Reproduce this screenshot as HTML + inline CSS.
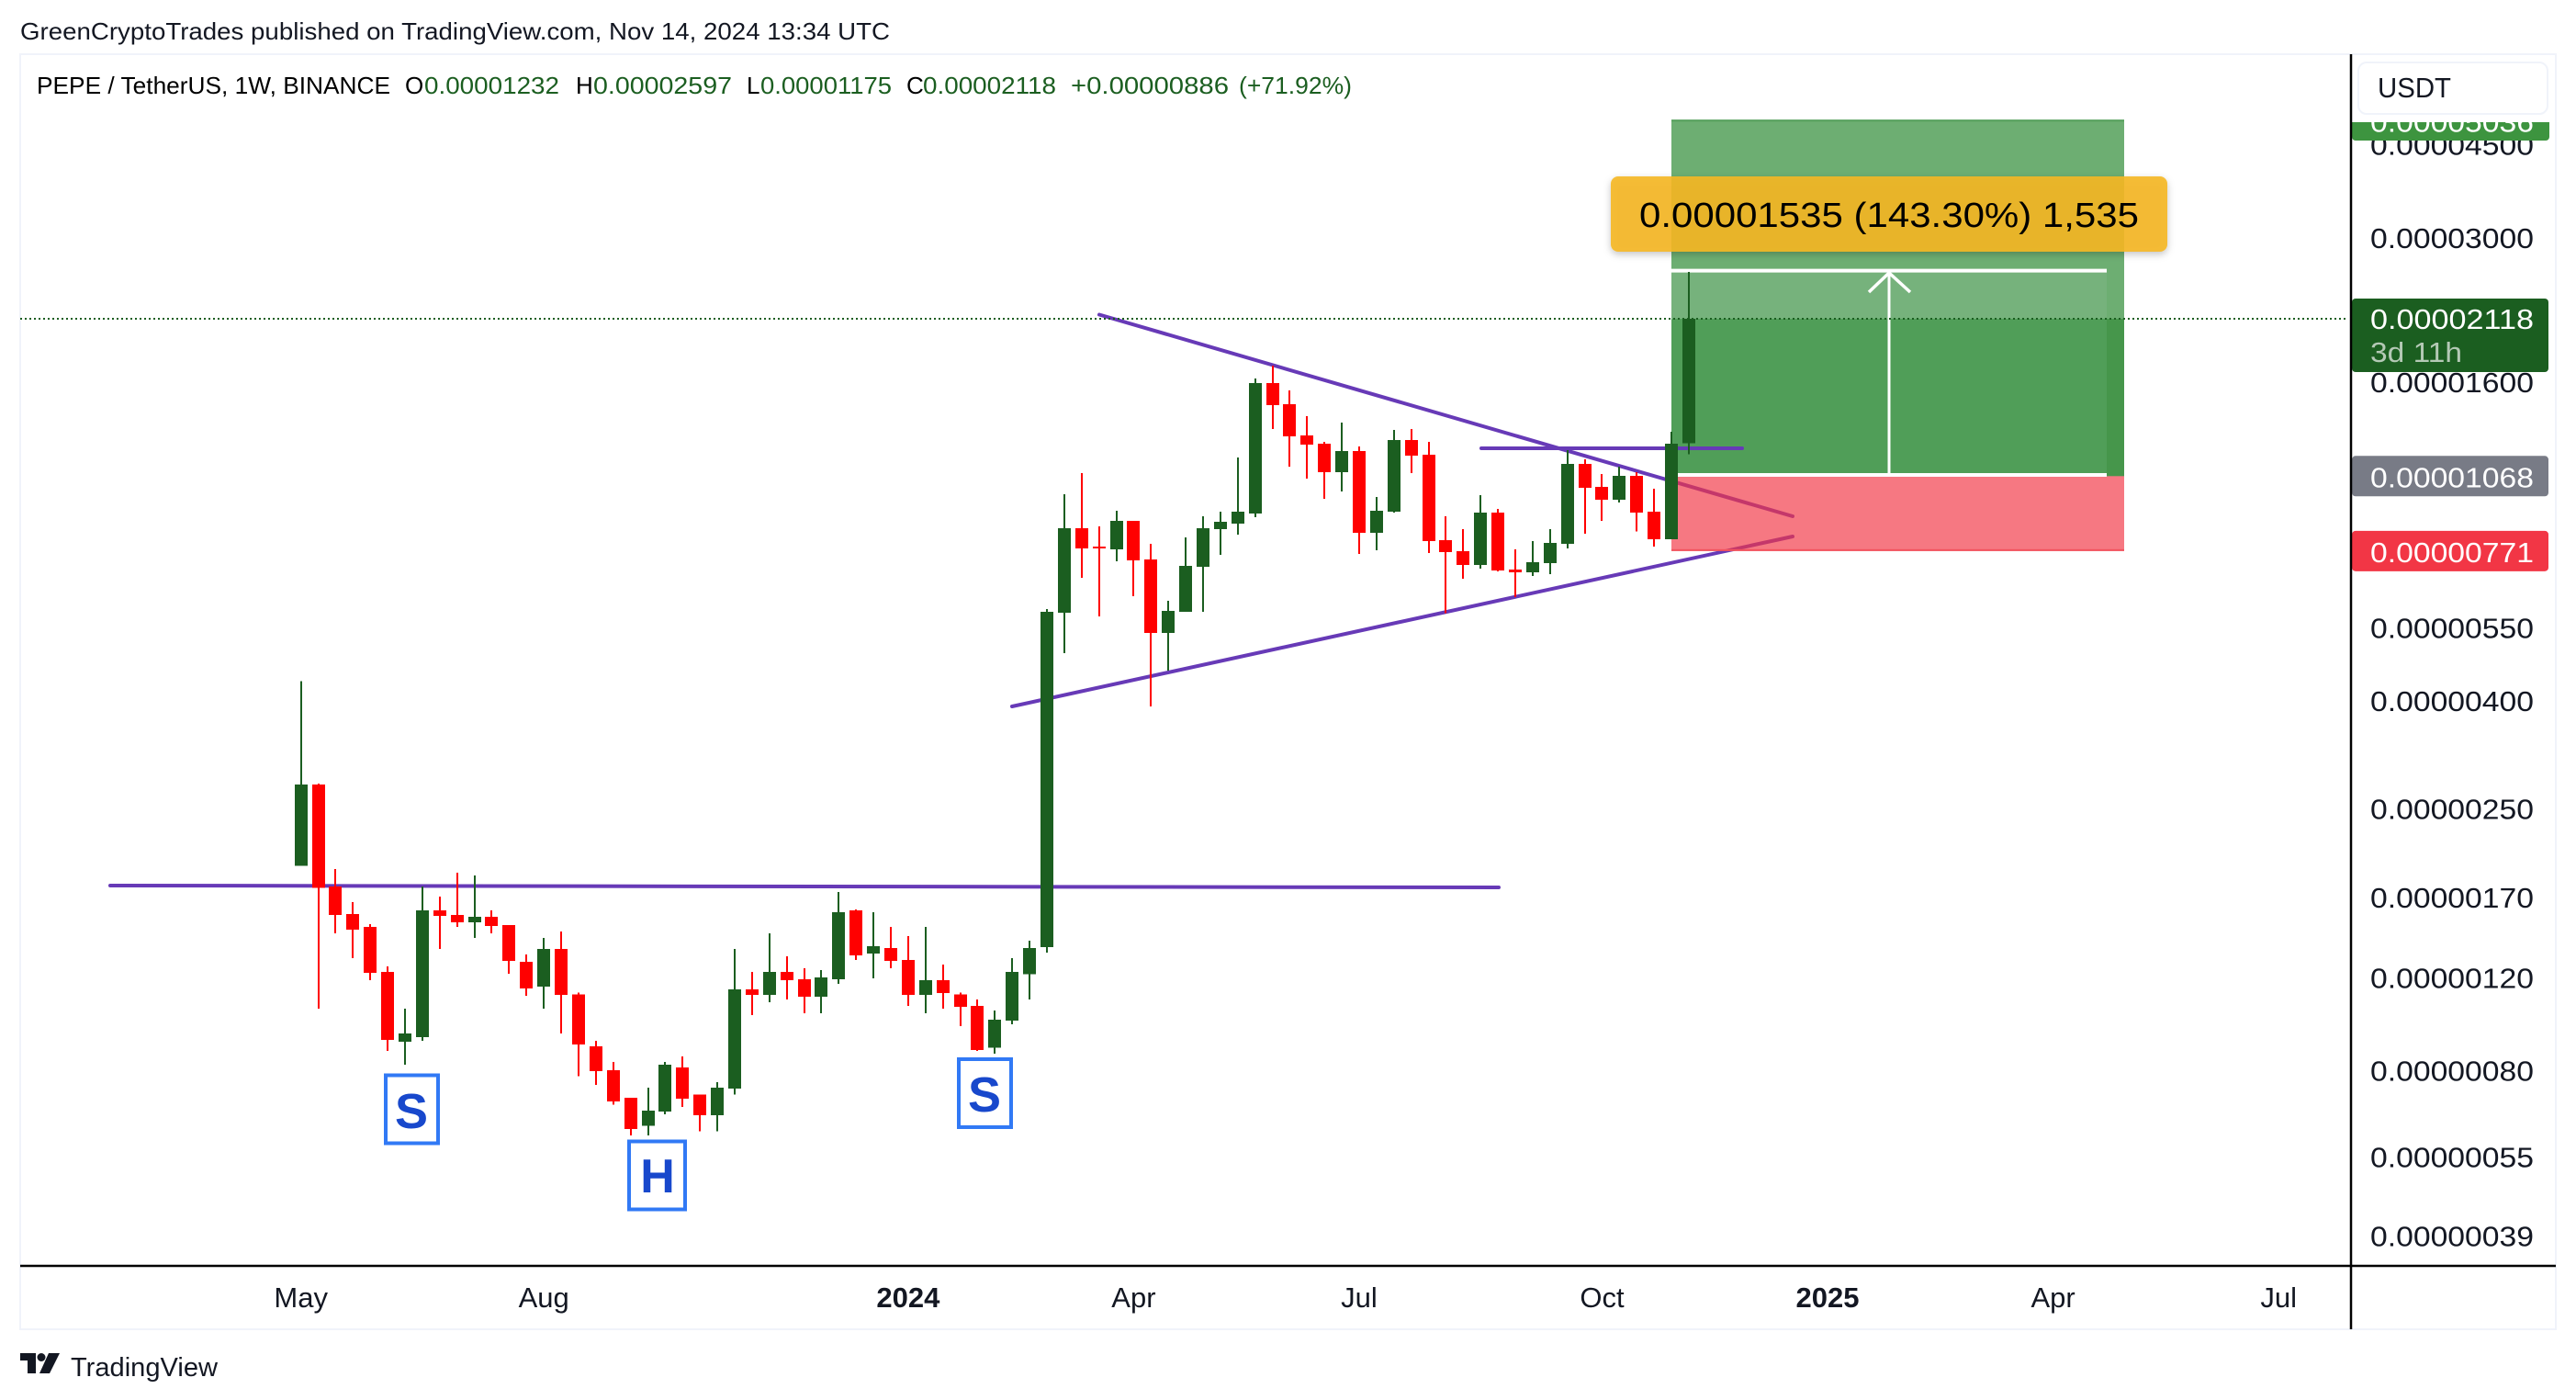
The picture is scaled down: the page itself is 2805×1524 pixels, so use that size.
<!DOCTYPE html>
<html lang="en">
<head>
<meta charset="utf-8">
<title>PEPE / TetherUS weekly chart</title>
<style>
html,body{margin:0;padding:0;background:#fff;width:2805px;height:1524px;overflow:hidden}
svg{display:block;font-family:"Liberation Sans",Arial,sans-serif}
</style>
</head>
<body>
<svg id="chart" xmlns="http://www.w3.org/2000/svg" width="2805" height="1524" viewBox="0 0 2805 1524">
  <defs>
    <clipPath id="target-clip"><rect x="2560" y="133" width="220" height="21"/></clipPath>
    <filter id="badge-shadow" x="-5%" y="-20%" width="110%" height="150%">
      <feDropShadow dx="0" dy="3" stdDeviation="4" flood-color="#000" flood-opacity="0.25"/>
    </filter>
  </defs>

  <text x="22" y="43" font-size="26" fill="#131722" textLength="947" lengthAdjust="spacingAndGlyphs">GreenCryptoTrades published on TradingView.com, Nov 14, 2024 13:34 UTC</text>

  <rect x="22" y="59" width="2761" height="1388" fill="#fff" stroke="#f0f3fa" stroke-width="2"/>

  <g font-size="26">
    <text x="40" y="102" fill="#000" textLength="385" lengthAdjust="spacingAndGlyphs">PEPE / TetherUS, 1W, BINANCE</text>
    <text x="441" y="102" fill="#000">O</text>
    <text x="462" y="102" fill="#1b5e20" textLength="147" lengthAdjust="spacingAndGlyphs">0.00001232</text>
    <text x="627" y="102" fill="#000">H</text>
    <text x="646" y="102" fill="#1b5e20" textLength="151" lengthAdjust="spacingAndGlyphs">0.00002597</text>
    <text x="813" y="102" fill="#000">L</text>
    <text x="828" y="102" fill="#1b5e20" textLength="143" lengthAdjust="spacingAndGlyphs">0.00001175</text>
    <text x="987" y="102" fill="#000">C</text>
    <text x="1005" y="102" fill="#1b5e20" textLength="145" lengthAdjust="spacingAndGlyphs">0.00002118</text>
    <text x="1166" y="102" fill="#1b5e20" textLength="172" lengthAdjust="spacingAndGlyphs">+0.00000886</text>
    <text x="1349" y="102" fill="#1b5e20" textLength="123" lengthAdjust="spacingAndGlyphs">(+71.92%)</text>
  </g>

  <g stroke="#673ab7" stroke-width="4" stroke-linecap="round" fill="none">
    <line x1="120" y1="964" x2="1632" y2="966"/>
    <line x1="1197" y1="342.5" x2="1952" y2="562"/>
    <line x1="1102" y1="769" x2="1952" y2="584"/>
  </g>

  <g id="position-tool"></g>

  <line x1="1613" y1="488" x2="1897" y2="488" stroke="#673ab7" stroke-width="4" stroke-linecap="round"/>

  <g fill="none" stroke="#fff">
    <line x1="1820" y1="294.6" x2="2294" y2="294.6" stroke-width="4"/>
    <line x1="1820" y1="517" x2="2294" y2="517" stroke-width="4"/>
    <line x1="2057" y1="296" x2="2057" y2="517" stroke-width="3"/>
    <path d="M2035 318 L2057 297 L2080 318" stroke-width="3.5"/>
  </g>

  <line id="price-line" x1="22" x2="2557" stroke="#1b5e20" stroke-width="2" stroke-dasharray="2 3"/>

  <g id="candles" shape-rendering="crispEdges"></g>

  <g>
    <rect x="1754" y="192" width="606" height="82" rx="8" fill="rgba(245,183,38,0.9)" filter="url(#badge-shadow)"/>
    <text x="1785" y="247" font-size="38" fill="#000" textLength="544" lengthAdjust="spacingAndGlyphs">0.00001535 (143.30%) 1,535</text>
  </g>

  <g>
    <rect x="420" y="1170.5" width="57" height="74" fill="#fff" stroke="#3179f5" stroke-width="4"/>
    <text x="448" y="1228" font-size="54" font-weight="700" fill="#1848cc" text-anchor="middle">S</text>
  </g>
  <g>
    <rect x="685" y="1242.5" width="61" height="74" fill="#fff" stroke="#3179f5" stroke-width="4"/>
    <text x="716" y="1298" font-size="52" font-weight="700" fill="#1848cc" text-anchor="middle">H</text>
  </g>
  <g>
    <rect x="1044" y="1153" width="57" height="74" fill="#fff" stroke="#3179f5" stroke-width="4"/>
    <text x="1072" y="1210" font-size="54" font-weight="700" fill="#1848cc" text-anchor="middle">S</text>
  </g>

  <rect x="2561" y="60" width="221" height="1317" fill="#fff"/>
  <g id="price-axis"></g>
  <g id="price-tags"></g>

  <g>
    <rect x="2568" y="68" width="206" height="56" rx="9" fill="#fff" stroke="#f0f3fa" stroke-width="2"/>
    <text x="2589" y="106" font-size="31" fill="#131722" textLength="80" lengthAdjust="spacingAndGlyphs">USDT</text>
  </g>

  <line x1="2560" y1="59" x2="2560" y2="1447" stroke="#000" stroke-width="2.5"/>
  <line x1="22" y1="1378" x2="2783" y2="1378" stroke="#000" stroke-width="2.5"/>
  <g id="time-axis"></g>

  <g fill="#131722">
    <path d="M22 1473 H39 V1495 H30 V1481 H22 Z"/>
    <circle cx="45" cy="1477.5" r="4.5"/>
    <path d="M53 1473 H65 L54 1495 H43 Z"/>
  </g>
  <text x="77" y="1498" font-size="29" fill="#131722" textLength="160" lengthAdjust="spacingAndGlyphs">TradingView</text>
</svg>

<script>
// Prices are expressed in units of 0.00000001 USDT.
const priceUnit = 1e-8;
const opens = [196,279.2,179.1,158.9,150.3,123.6,91.1,93,161.5,158.3,153.3,157,151.5,129.1,115.8,136.6,112.1,89.3,80.5,71.4,63.3,67.3,81.5,72.5,66.2,74.3,114.4,111.8,123.6,119.6,111,119.6,161.5,133.8,137.1,130.1,111.8,119.1,112.1,106.5,88.9,99.9,122.2,137.6,589.5,851.6,786,776.7,879.2,743.3,540,592,719.7,848.2,868.7,907.8,1601,1460,1275,1229,1086,1191,834.6,915,1250,1172,808,770.5,725.7,911,711.4,702.9,731.5,795.5,1126,1019,964,1069,915,812,1232];
const highs = [438,280.3,193.3,167.4,152.1,126.6,105.2,179.1,171.5,190.2,187.9,161.5,151.5,133.3,143.3,147.2,113,91.5,83.5,71.4,74.6,83.5,85.5,72.5,76.4,136.6,123.6,146.1,132.2,125.6,124.6,174.9,162.1,160.2,150.3,144.5,150.3,127.6,113,109.5,104.4,131.2,141.6,599,987,1082,858.3,918.7,879.2,795.5,620.9,818,896.9,915,1158,1634,1728,1551,1386,1240,1348,1215,975.4,1306,1311,1240,897,848,983,926,776.7,805,848,1195,1149,1078,1113,1086,1011,1295,2597];
const lows = [196,105.2,146.1,131.2,119.2,87.6,82.5,91.5,136.6,150.3,143.3,146.1,122.6,111.3,105.2,94.5,78.5,75.5,69.4,60.7,60.7,66.5,68.6,61.7,61.7,72.5,102.3,108.2,109.5,103.2,103.2,117.3,130.1,120.1,125.6,106.5,103.2,105.2,97.6,87.6,86.5,98.4,109.5,134.3,494.5,686.3,580.2,737.4,633.5,392,458.2,592,592,758.3,828,893.4,1311,1113,1057,967.7,999,761,773.6,911,1082,764,588,683.5,714,706,631,691.7,697.3,779.8,831,879,952,840,786,812,1175];
const closes = [279,178,158.3,148.5,123.1,91.9,94.5,161.5,157.7,153.3,157,150.9,129.6,114.9,136.6,111.8,90,80.2,70.3,62.4,67.5,82.5,71.1,66.2,74.6,114.4,111.8,123.6,119.1,111,120.5,160.2,132.7,138.2,129.6,111.8,119.1,112.6,106.1,87.9,100.3,123.6,137.1,592,851.6,779.8,779.8,879.2,740.4,540,594.3,722.6,851.6,875.6,915,1601,1454,1270,1225,1086,1191,835,918.7,1250,1167,805,767,725.7,911,709,702.9,734.4,798.7,1126,1015,964,1069,911,812,1230,2118];

const priceTicks = [4500,3000,1600,550,400,250,170,120,80,55,39];
const timeLabels = ["May","Aug","2024","Apr","Jul","Oct","2025","Apr","Jul"];
const timeLabelBars = [0,14,35,48,61,75,88,101,114];

const lastPrice = 2118;
const targetPrice = 5036;
const entryPrice = 1068;
const stopPrice = 771;

const SVG_NS = "http://www.w3.org/2000/svg";

function yOf(price) {
  return 347 - 250.2 * Math.log(price / 2118);
}
function xOf(bar) {
  return 327.7 + 18.89 * bar;
}
function formatPrice(price) {
  return (price * priceUnit).toFixed(8);
}
function make(tag, attrs, parent) {
  const el = document.createElementNS(SVG_NS, tag);
  for (const key in attrs) el.setAttribute(key, attrs[key]);
  parent.appendChild(el);
  return el;
}

// Last-price dotted line
const priceLine = document.getElementById("price-line");
priceLine.setAttribute("y1", yOf(lastPrice));
priceLine.setAttribute("y2", yOf(lastPrice));

// Long position tool
const tool = document.getElementById("position-tool");
const toolLeft = 1820;
const toolRight = 2313;
const measureRight = 2294;
const yTarget = yOf(targetPrice);
const yEntry = yOf(entryPrice);
const yStop = yOf(stopPrice);
const yLast = yOf(lastPrice);
const yMeasureTop = yOf(highs[highs.length - 1]);

const profitZone = make("rect", {x: toolLeft, y: yTarget, width: toolRight - toolLeft, height: yEntry - yTarget, fill: "#6dae72"}, tool);



const filledZone = make("rect", {x: toolLeft, y: yLast, width: toolRight - toolLeft, height: yEntry - yLast, fill: "#46964b"}, tool);



const measureUpper = make("rect", {x: toolLeft, y: yMeasureTop, width: measureRight - toolLeft, height: yLast - yMeasureTop, fill: "#76b27c"}, tool);



const measureLower = make("rect", {x: toolLeft, y: yLast, width: measureRight - toolLeft, height: yEntry - yLast, fill: "#509e58"}, tool);



const profitEdge = make("rect", {x: toolLeft, y: yTarget, width: toolRight - toolLeft, height: 2, fill: "#559f5b"}, tool);



const stopZone = make("rect", {x: toolLeft, y: yEntry, width: toolRight - toolLeft, height: yStop - yEntry, fill: "rgba(242,54,69,0.67)"}, tool);



const stopEdge = make("rect", {x: toolLeft, y: yStop - 2, width: toolRight - toolLeft, height: 2, fill: "#f2545f"}, tool);



// Candles
const candleGroup = document.getElementById("candles");
opens.forEach(function (open, i) {
  const close = closes[i];
  const color = close >= open ? "#1b5e20" : "#ff0000";
  const cx = Math.round(xOf(i));
  const top = yOf(Math.max(open, close));
  const bottom = yOf(Math.min(open, close));
  const wick = make("rect", {x: cx - 1, y: yOf(highs[i]), width: 2, height: yOf(lows[i]) - yOf(highs[i]), fill: color}, candleGroup);
  
  
  const body = make("rect", {x: cx - 7, y: top, width: 14, height: Math.max(bottom - top, 2), fill: color}, candleGroup);
  
  
});

// Price axis
const priceAxis = document.getElementById("price-axis");
priceTicks.forEach(function (tick) {
  const label = make("text", {x: 2581, y: yOf(tick) + 10, "font-size": 31, fill: "#131722", textLength: 178, lengthAdjust: "spacingAndGlyphs"}, priceAxis);
  
  
  label.textContent = formatPrice(tick);
});

// Price tags
const tags = document.getElementById("price-tags");

const targetGroup = make("g", {"clip-path": "url(#target-clip)"}, tags);


const targetBox = make("rect", {x: 2561, y: 110, width: 215, height: 43, rx: 4, fill: "#3d943f"}, targetGroup);


const targetText = make("text", {x: 2581, y: yTarget + 13, "font-size": 31, fill: "#fff", textLength: 178, lengthAdjust: "spacingAndGlyphs"}, targetGroup);


targetText.textContent = formatPrice(targetPrice);

const lastBox = make("rect", {x: 2561, y: yLast - 22, width: 214, height: 80, rx: 4, fill: "#1b5e20"}, tags);


const lastText = make("text", {x: 2581, y: yLast + 11, "font-size": 31, fill: "#fff", textLength: 178, lengthAdjust: "spacingAndGlyphs"}, tags);


lastText.textContent = formatPrice(lastPrice);
const countdown = make("text", {x: 2581, y: yLast + 47, "font-size": 31, fill: "#b4c9b5", textLength: 100, lengthAdjust: "spacingAndGlyphs"}, tags);


countdown.textContent = "3d 11h";

const entryBox = make("rect", {x: 2561, y: yEntry - 22, width: 214, height: 44, rx: 4, fill: "#787b86"}, tags);


const entryText = make("text", {x: 2581, y: yEntry + 12, "font-size": 31, fill: "#fff", textLength: 178, lengthAdjust: "spacingAndGlyphs"}, tags);


entryText.textContent = formatPrice(entryPrice);

const stopBox = make("rect", {x: 2561, y: yStop - 22, width: 214, height: 44, rx: 4, fill: "#f23645"}, tags);


const stopText = make("text", {x: 2581, y: yStop + 12, "font-size": 31, fill: "#fff", textLength: 178, lengthAdjust: "spacingAndGlyphs"}, tags);


stopText.textContent = formatPrice(stopPrice);

// Time axis
const timeAxis = document.getElementById("time-axis");
timeLabels.forEach(function (name, i) {
  const isYear = /^\d{4}$/.test(name);
  const label = make("text", {x: xOf(timeLabelBars[i]), y: 1423, "font-size": 31, fill: "#131722", "text-anchor": "middle", "font-weight": isYear ? 700 : 400}, timeAxis);
  
  
  label.textContent = name;
});
</script>
</body>
</html>
